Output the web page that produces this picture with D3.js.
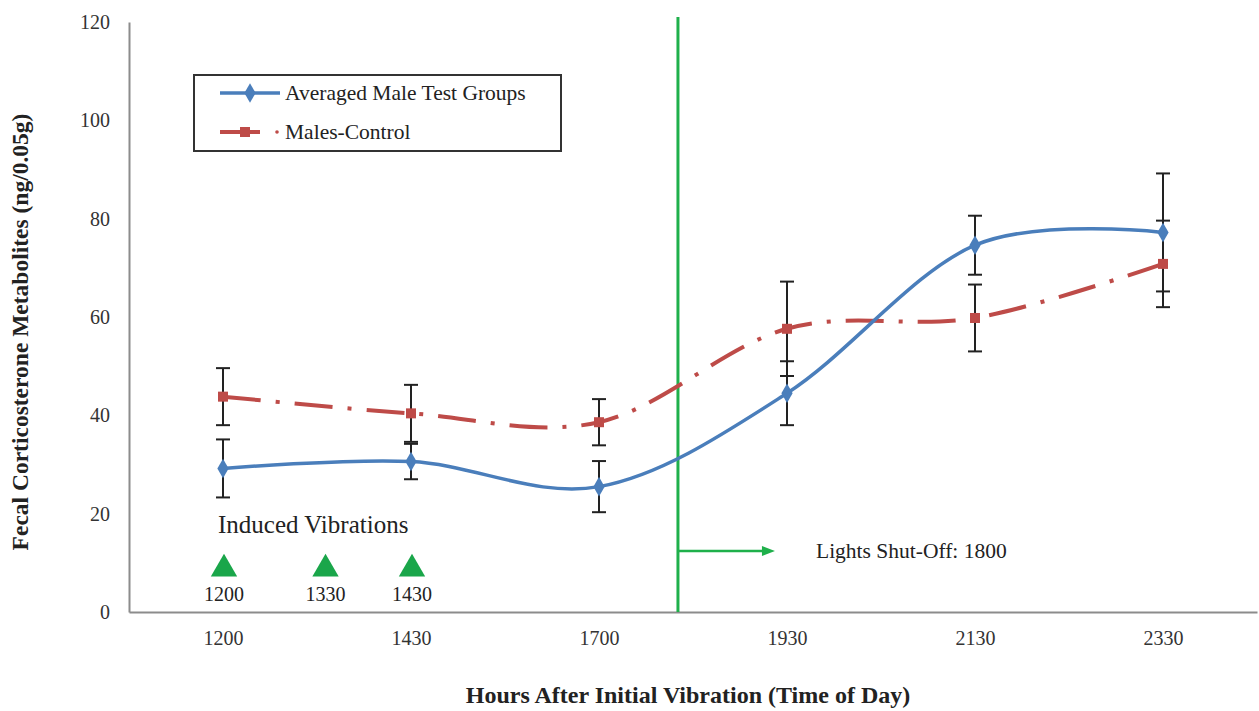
<!DOCTYPE html>
<html>
<head>
<meta charset="utf-8">
<script src="https://cdn.jsdelivr.net/npm/d3@7"></script>
<style>
html,body{margin:0;padding:0;background:#fff;}
svg{display:block;}
svg text{font-family:"Liberation Serif","Times New Roman",serif !important;}
</style>
</head>
<body>
<svg id="chart" width="1259" height="711"></svg>
<script>
// ---- data ----
const categories = ["1200", "1430", "1700", "1930", "2130", "2330"];
const testMeans = [29.2, 30.6, 25.5, 44.5, 74.6, 77.2];
const testErr = [5.9, 3.6, 5.2, 6.5, 6.0, 12.0];
const controlMeans = [43.8, 40.4, 38.6, 57.6, 59.8, 70.8];
const controlErr = [5.8, 5.8, 4.7, 9.6, 6.8, 8.8];
const yTicks = [0, 20, 40, 60, 80, 100, 120];
const vibrationLabels = ["1200", "1330", "1430"];
const vibrationPos = [0, 0.54, 1.0];
const lightsOffPos = 2.42;
const seriesNames = ["Averaged Male Test Groups", "Males-Control"];

// ---- layout ----
const FONT = "'Liberation Serif', 'Times New Roman', serif";
const svg = d3.select("#chart");
const x = d3.scaleLinear().domain([-0.5, 5.5]).range([129, 1257]);
const y = d3.scaleLinear().domain([0, 120]).range([612, 22]);
const blue = "#4a7ebb", red = "#be4b48", green = "#1fb04b";

function txt(parent) {
  return parent.append("text").attr("font-family", FONT).style("font-family", FONT);
}

// axes
const yAxis = d3.axisLeft(y).tickValues(yTicks).tickSize(0).tickPadding(19);
const gy = svg.append("g").attr("transform", `translate(${x.range()[0]},0)`).call(yAxis);
gy.attr("font-family", FONT);
gy.select(".domain").attr("stroke", "#8c8c8c").attr("stroke-width", 2);
gy.selectAll("text").attr("font-size", 20).attr("fill", "#333").style("font-family", FONT);

const xAxis = d3.axisBottom(x).tickValues(d3.range(categories.length)).tickFormat(i => categories[i]).tickSize(0).tickPadding(19);
const gx = svg.append("g").attr("transform", `translate(0,${y(0)})`).call(xAxis);
gx.attr("font-family", FONT);
gx.select(".domain").attr("stroke", "#8c8c8c").attr("stroke-width", 2);
gx.selectAll("text").attr("font-size", 20).attr("fill", "#333").style("font-family", FONT);

// axis titles
txt(svg)
  .attr("transform", `translate(28,332) rotate(-90)`)
  .attr("text-anchor", "middle").attr("font-size", 23.5).attr("font-weight", "bold").attr("fill", "#222")
  .text("Fecal Corticosterone Metabolites (ng/0.05g)");
txt(svg)
  .attr("x", 688).attr("y", 703)
  .attr("text-anchor", "middle").attr("font-size", 24).attr("font-weight", "bold").attr("fill", "#222")
  .text("Hours After Initial Vibration (Time of Day)");

// lights off line
svg.append("line")
  .attr("x1", x(lightsOffPos)).attr("x2", x(lightsOffPos))
  .attr("y1", 17).attr("y2", y(0))
  .attr("stroke", green).attr("stroke-width", 3);
const arrowY = 551;
svg.append("line")
  .attr("x1", x(lightsOffPos)).attr("x2", x(lightsOffPos) + 86)
  .attr("y1", arrowY).attr("y2", arrowY)
  .attr("stroke", green).attr("stroke-width", 2.5);
svg.append("path")
  .attr("d", d3.line()([[x(lightsOffPos) + 84, arrowY - 5], [x(lightsOffPos) + 97, arrowY], [x(lightsOffPos) + 84, arrowY + 5]]) + "Z")
  .attr("fill", green);
txt(svg)
  .attr("x", 816).attr("y", arrowY + 7)
  .attr("font-size", 21.5).attr("fill", "#222")
  .text("Lights Shut-Off: 1800");

// induced vibrations
txt(svg)
  .attr("x", 218).attr("y", 533)
  .attr("font-size", 25).attr("fill", "#222")
  .text("Induced Vibrations");
const tri = d3.symbol().type(d3.symbolTriangle).size(300);
vibrationPos.forEach((p, i) => {
  svg.append("path")
    .attr("d", tri())
    .attr("transform", `translate(${x(p) + 1},${569})`)
    .attr("fill", "#1aa64a");
  txt(svg)
    .attr("x", x(p) + 1).attr("y", 601)
    .attr("text-anchor", "middle").attr("font-size", 20).attr("fill", "#222")
    .text(vibrationLabels[i]);
});

// error bars
function errorBars(means, errs) {
  const g = svg.append("g").attr("stroke", "#222").attr("stroke-width", 2);
  means.forEach((m, i) => {
    const cx = x(i), top = y(m + errs[i]), bot = y(m - errs[i]);
    g.append("line").attr("x1", cx).attr("x2", cx).attr("y1", top).attr("y2", bot);
    g.append("line").attr("x1", cx - 7).attr("x2", cx + 7).attr("y1", top).attr("y2", top);
    g.append("line").attr("x1", cx - 7).attr("x2", cx + 7).attr("y1", bot).attr("y2", bot);
  });
}
errorBars(controlMeans, controlErr);
errorBars(testMeans, testErr);

// lines
const line = d3.line().x((d, i) => x(i)).y(d => y(d)).curve(d3.curveCardinal.tension(0));
svg.append("path").datum(controlMeans)
  .attr("d", line).attr("fill", "none").attr("stroke", red).attr("stroke-width", 4)
  .attr("stroke-dasharray", "38 15 4 15");
svg.append("path").datum(testMeans)
  .attr("d", line).attr("fill", "none").attr("stroke", blue).attr("stroke-width", 3.5);

// markers
const diamond = d3.symbol().type(d3.symbolDiamond).size(110);
svg.append("g").selectAll("path").data(testMeans).join("path")
  .attr("d", diamond()).attr("transform", (d, i) => `translate(${x(i)},${y(d)})`).attr("fill", blue);
svg.append("g").selectAll("rect").data(controlMeans).join("rect")
  .attr("x", (d, i) => x(i) - 5).attr("y", d => y(d) - 5).attr("width", 10).attr("height", 10).attr("fill", red);

// legend
const lg = svg.append("g");
lg.append("rect").attr("x", 194).attr("y", 75).attr("width", 367).attr("height", 76)
  .attr("fill", "#fff").attr("stroke", "#333").attr("stroke-width", 2);
lg.append("line").attr("x1", 220).attr("x2", 280).attr("y1", 93).attr("y2", 93).attr("stroke", blue).attr("stroke-width", 3.5);
lg.append("path").attr("d", diamond()).attr("transform", "translate(250,93)").attr("fill", blue);
txt(lg).attr("x", 285).attr("y", 100).attr("font-size", 21.5).attr("fill", "#222").text(seriesNames[0]);
lg.append("line").attr("x1", 220).attr("x2", 260).attr("y1", 132).attr("y2", 132).attr("stroke", red).attr("stroke-width", 4);
lg.append("rect").attr("x", 240).attr("y", 127).attr("width", 10).attr("height", 10).attr("fill", red);
lg.append("circle").attr("cx", 277).attr("cy", 132).attr("r", 1.8).attr("fill", red);
txt(lg).attr("x", 285).attr("y", 139).attr("font-size", 21.5).attr("fill", "#222").text(seriesNames[1]);
</script>
</body>
</html>
